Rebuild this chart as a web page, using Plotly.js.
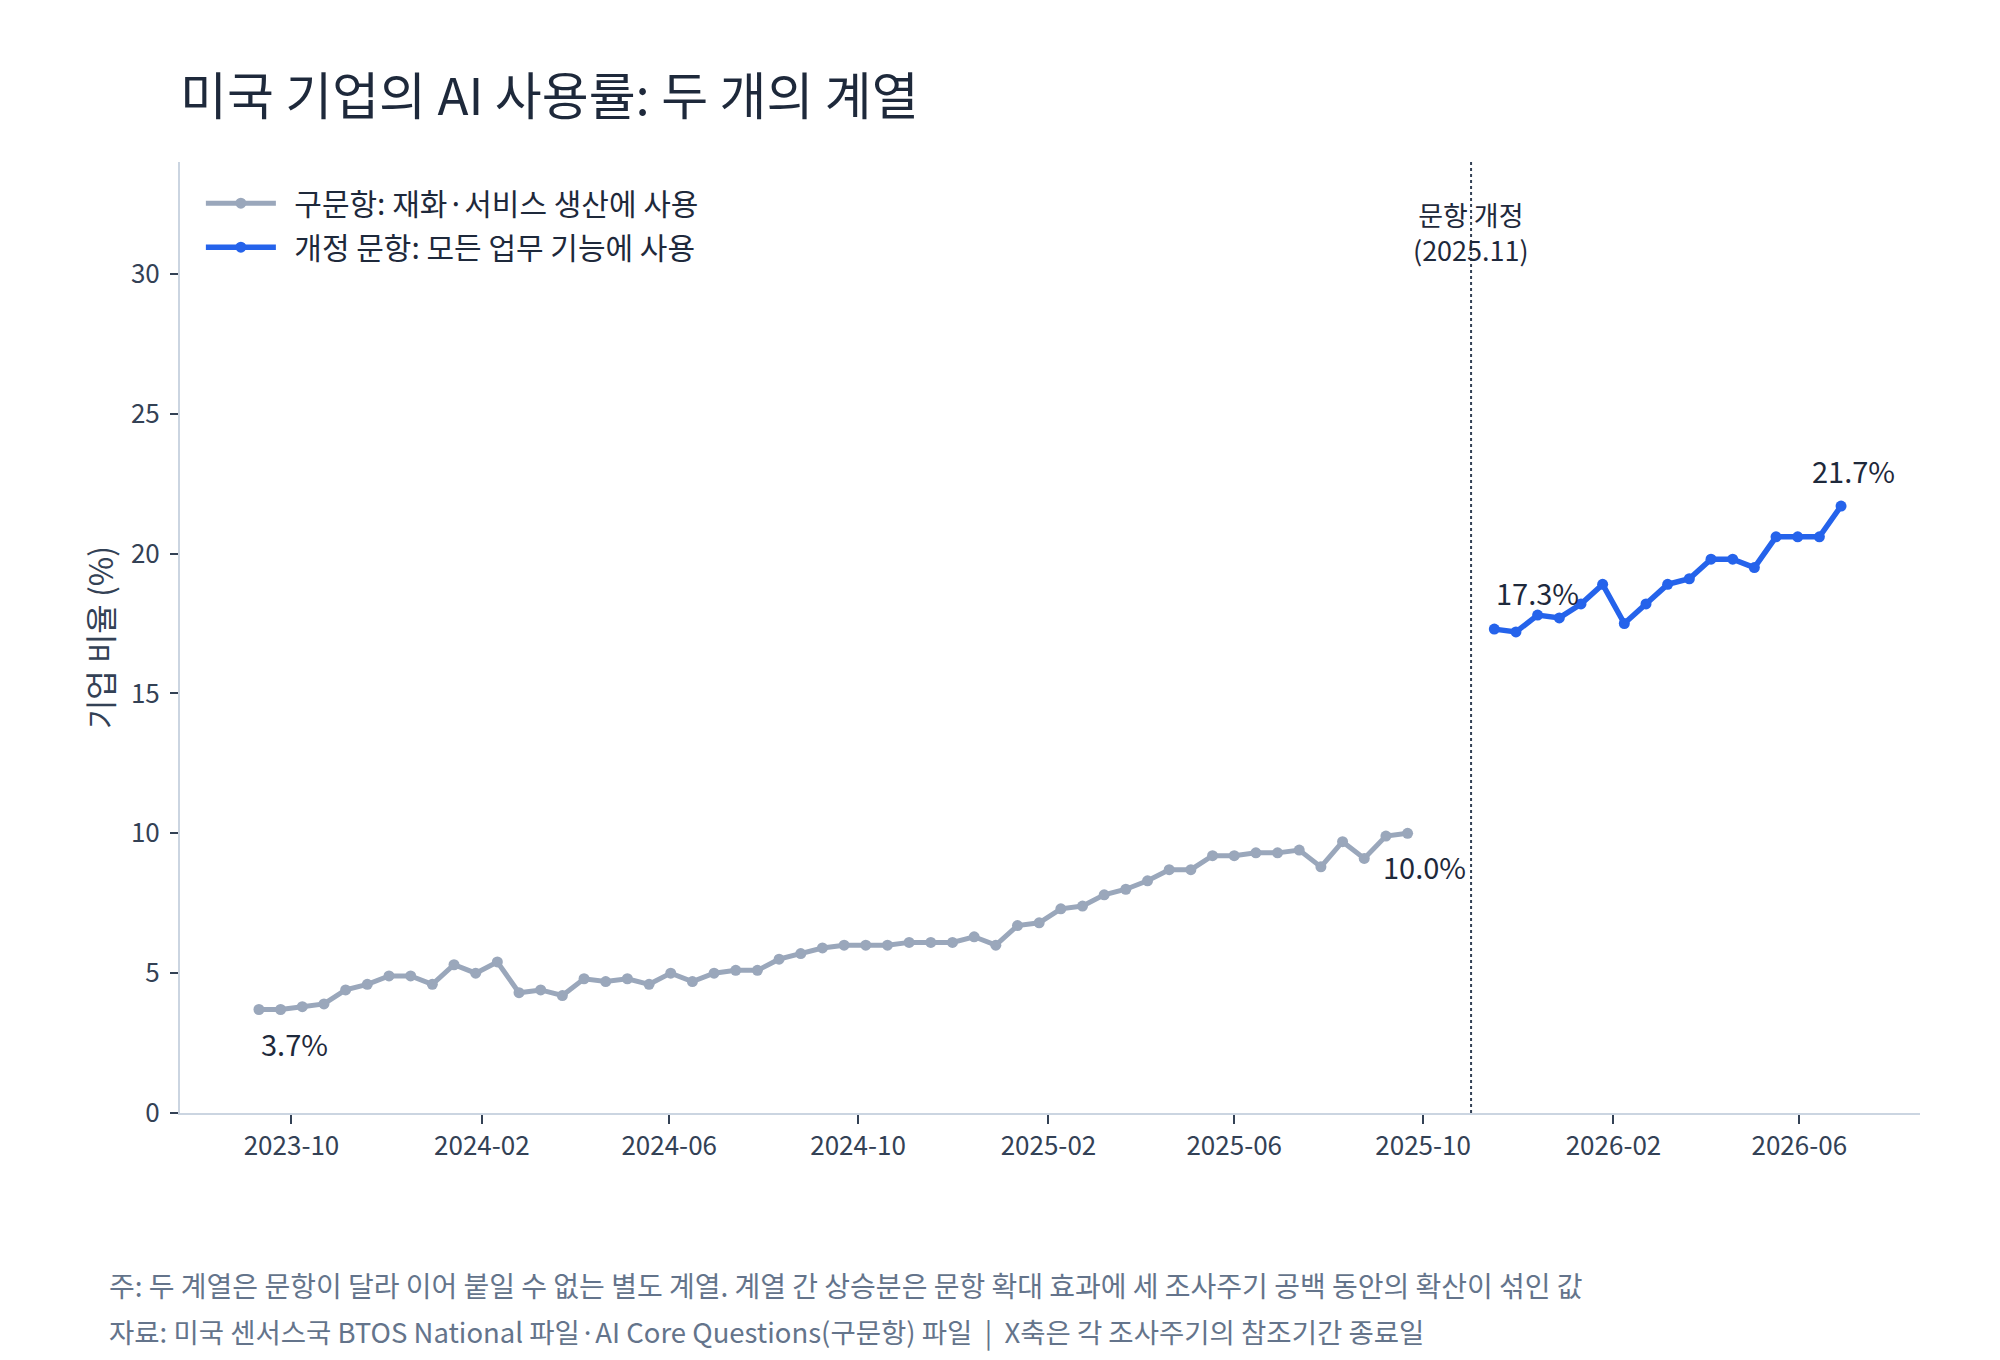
<!DOCTYPE html>
<html>
<head>
<meta charset="utf-8">
<script src="https://cdn.plot.ly/plotly-3.0.1.min.js"></script>
<style>html,body{margin:0;padding:0;background:#fff;}#chart{width:2000px;height:1360px;}</style>
</head>
<body>
<div id="chart"></div>
<script>
// ---- Data ----
const oldDates = [
  '2023-09-10','2023-09-24','2023-10-08','2023-10-22','2023-11-05','2023-11-19','2023-12-03','2023-12-17','2023-12-31',
  '2024-01-14','2024-01-28','2024-02-11','2024-02-25','2024-03-10','2024-03-24','2024-04-07','2024-04-21','2024-05-05',
  '2024-05-19','2024-06-02','2024-06-16','2024-06-30','2024-07-14','2024-07-28','2024-08-11','2024-08-25','2024-09-08',
  '2024-09-22','2024-10-06','2024-10-20','2024-11-03','2024-11-17','2024-12-01','2024-12-15','2024-12-29',
  '2025-01-12','2025-01-26','2025-02-09','2025-02-23','2025-03-09','2025-03-23','2025-04-06','2025-04-20','2025-05-04',
  '2025-05-18','2025-06-01','2025-06-15','2025-06-29','2025-07-13','2025-07-27','2025-08-10','2025-08-24','2025-09-07',
  '2025-09-21'
];
const oldValues = [
  3.7,3.7,3.8,3.9,4.4,4.6,4.9,4.9,4.6,
  5.3,5.0,5.4,4.3,4.4,4.2,4.8,4.7,4.8,
  4.6,5.0,4.7,5.0,5.1,5.1,5.5,5.7,5.9,
  6.0,6.0,6.0,6.1,6.1,6.1,6.3,6.0,
  6.7,6.8,7.3,7.4,7.8,8.0,8.3,8.7,8.7,
  9.2,9.2,9.3,9.3,9.4,8.8,9.7,9.1,9.9,
  10.0
];
const newDates = [
  '2025-11-16','2025-11-30','2025-12-14','2025-12-28','2026-01-11','2026-01-25','2026-02-08','2026-02-22','2026-03-08',
  '2026-03-22','2026-04-05','2026-04-19','2026-05-03','2026-05-17','2026-05-31','2026-06-14','2026-06-28'
];
const newValues = [17.3,17.2,17.8,17.7,18.2,18.9,17.5,18.2,18.9,19.1,19.8,19.8,19.5,20.6,20.6,20.6,21.7];

const oldName = '구문항: 재화·서비스 생산에 사용';
const newName = '개정 문항: 모든 업무 기능에 사용';
const revisionDate = '2025-11-01';
const revisionLabel = '문항 개정<br>(2025.11)';
const titleText = '미국 기업의 AI 사용률: 두 개의 계열';
const yTitle = '기업 비율 (%)';
const note1 = '주: 두 계열은 문항이 달라 이어 붙일 수 없는 별도 계열. 계열 간 상승분은 문항 확대 효과에 세 조사주기 공백 동안의 확산이 섞인 값';
const note2 = '자료: 미국 센서스국 BTOS National 파일·AI Core Questions(구문항) 파일  |  X축은 각 조사주기의 참조기간 종료일';

// ---- Style ----
const FONT = '"Noto Sans CJK KR", "Noto Sans", sans-serif';
const GRAY = '#9aa7bb';
const BLUE = '#2563eb';
const DARK = '#1e293b';
const TICK = '#334155';
const AXIS = '#cbd5e1';
const NOTE = '#64748b';
const PAD = '\u00A0\u00A0';

const fmt = v => v.toFixed(1) + '%';
const last = a => a[a.length - 1];

const traces = [
  {
    x: oldDates, y: oldValues, type: 'scatter', mode: 'lines+markers', name: PAD + oldName,
    legendgroup: 'a',
    line: {color: GRAY, width: 5}, marker: {color: GRAY, size: 11}
  },
  {
    x: newDates, y: newValues, type: 'scatter', mode: 'lines+markers', name: PAD + newName,
    legendgroup: 'b',
    line: {color: BLUE, width: 5.5}, marker: {color: BLUE, size: 11}
  }
];

const labelFont = {family: FONT, size: 29, color: DARK};
const annotations = [
  {x: oldDates[0], y: oldValues[0], text: fmt(oldValues[0]), showarrow: false,
   xanchor: 'left', yanchor: 'middle', xshift: 0, yshift: -33, font: labelFont},
  {x: last(oldDates), y: last(oldValues), text: fmt(last(oldValues)), showarrow: false,
   xanchor: 'center', yanchor: 'middle', xshift: 17, yshift: -33, font: labelFont},
  {x: newDates[0], y: newValues[0], text: fmt(newValues[0]), showarrow: false,
   xanchor: 'left', yanchor: 'middle', xshift: 0, yshift: 37, font: labelFont},
  {x: last(newDates), y: last(newValues), text: fmt(last(newValues)), showarrow: false,
   xanchor: 'center', yanchor: 'middle', xshift: 12, yshift: 36, font: labelFont},
  {x: revisionDate, xref: 'x', y: 0.9264, yref: 'paper', text: revisionLabel, showarrow: false,
   xanchor: 'center', yanchor: 'middle', align: 'center', font: {family: FONT, size: 27, color: DARK}},
  {x: -0.0420, xref: 'paper', y: -0.1813, yref: 'paper', text: note1, showarrow: false,
   xanchor: 'left', yanchor: 'middle', align: 'left', font: {family: FONT, size: 28, color: NOTE}},
  {x: -0.0420, xref: 'paper', y: -0.2296, yref: 'paper', text: note2, showarrow: false,
   xanchor: 'left', yanchor: 'middle', align: 'left', font: {family: FONT, size: 27.5, color: NOTE}}
];

const layout = {
  width: 2000, height: 1360,
  paper_bgcolor: '#ffffff', plot_bgcolor: '#ffffff',
  font: {family: FONT, color: TICK},
  margin: {l: 180, r: 80, t: 162, b: 247},
  title: {
    text: titleText, x: 0, xref: 'paper', xanchor: 'left',
    y: 1 - 97 / 1360, yref: 'container', yanchor: 'middle',
    font: {family: FONT, size: 51, color: DARK}
  },
  showlegend: true,
  legend: {
    x: 0.012, y: 0.984, xanchor: 'left', yanchor: 'top',
    font: {family: FONT, size: 30, color: DARK},
    itemwidth: 70,
    bgcolor: 'rgba(0,0,0,0)', tracegroupgap: 2, traceorder: 'grouped'
  },
  xaxis: {
    type: 'date', range: ['2023-07-21', '2026-08-18'],
    tick0: '2023-10-01', dtick: 'M4', tickformat: '%Y-%m',
    showgrid: false, zeroline: false,
    showline: true, linecolor: AXIS, linewidth: 2,
    ticks: 'outside', ticklen: 9, tickwidth: 2, tickcolor: TICK,
    tickfont: {family: FONT, size: 26, color: TICK}
  },
  yaxis: {
    range: [0, 34], tick0: 0, dtick: 5,
    showgrid: false, zeroline: false,
    showline: true, linecolor: AXIS, linewidth: 2,
    ticks: 'outside', ticklen: 8, tickwidth: 2, tickcolor: TICK,
    ticklabelstandoff: 5,
    tickfont: {family: FONT, size: 26, color: TICK},
    title: {text: yTitle, font: {family: FONT, size: 32, color: TICK}, standoff: 8}
  },
  shapes: [
    {type: 'line', xref: 'x', yref: 'paper', x0: revisionDate, x1: revisionDate, y0: 0, y1: 1,
     line: {color: TICK, width: 2, dash: 'dot'}}
  ],
  annotations: annotations
};

Plotly.newPlot('chart', traces, layout, {displayModeBar: false, staticPlot: true});
</script>
</body>
</html>
